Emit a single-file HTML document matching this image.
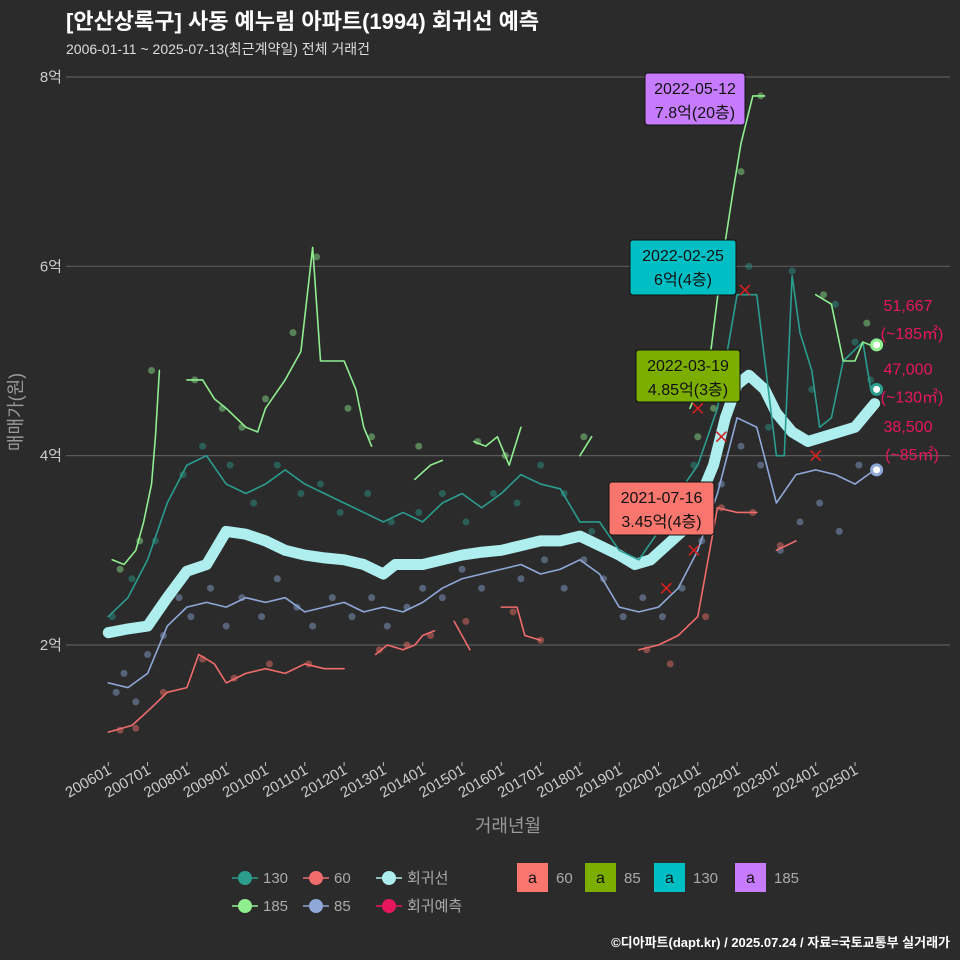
<!DOCTYPE html>
<html><head><meta charset="utf-8">
<style>
body{margin:0;background:#2b2b2b;}
svg{display:block;font-family:"Liberation Sans","Noto Sans CJK KR",sans-serif;}
</style></head>
<body>
<svg id="chart" width="960" height="960" viewBox="0 0 960 960">
<rect width="960" height="960" fill="#2b2b2b"/>
<text x="66" y="29" fill="#fff" font-size="22" font-weight="bold">[안산상록구] 사동 예누림 아파트(1994) 회귀선 예측</text>
<text x="66" y="54" fill="#ddd" font-size="14">2006-01-11 ~ 2025-07-13(최근계약일) 전체 거래건</text>
<g id="grid"></g>
<g id="marks"></g>
<g id="xaxis"></g>
<text x="508" y="832" fill="#999" font-size="18" text-anchor="middle">거래년월</text>
<text transform="translate(22,412) rotate(-90)" fill="#999" font-size="18" text-anchor="middle">매매가(원)</text>
<g id="legend"></g>
<text x="950" y="947" fill="#fff" font-size="13" font-weight="bold" text-anchor="end">©디아파트(dapt.kr) / 2025.07.24 / 자료=국토교통부 실거래가</text>
</svg>
<script>
const yTicks=[2,4,6,8];
const xTickYears=[2006,2007,2008,2009,2010,2011,2012,2013,2014,2015,2016,2017,2018,2019,2020,2021,2022,2023,2024,2025];
const regT=[2006,2006.5,2007,2007.5,2008,2008.5,2009,2009.5,2010,2010.5,2011,2011.5,2012,2012.5,2013,2013.3,2014,2014.5,2015,2015.5,2016,2016.5,2017,2017.5,2018,2018.5,2019,2019.4,2019.8,2020.2,2020.6,2021,2021.4,2021.7,2022,2022.3,2022.7,2023,2023.4,2023.8,2024.2,2024.6,2025,2025.5];
const regV=[2.13,2.17,2.2,2.5,2.78,2.85,3.2,3.17,3.1,3.0,2.95,2.92,2.9,2.85,2.75,2.85,2.85,2.9,2.95,2.98,3.0,3.05,3.1,3.1,3.15,3.05,2.95,2.85,2.9,3.05,3.2,3.5,3.9,4.4,4.75,4.85,4.7,4.45,4.25,4.15,4.2,4.25,4.3,4.55];
const s130T=[2006,2006.5,2007,2007.5,2008,2008.5,2009,2009.5,2010,2010.5,2011,2011.5,2012,2012.5,2013,2013.5,2014,2014.5,2015,2015.5,2016,2016.5,2017,2017.5,2018,2018.5,2019,2019.5,2020,2020.5,2021,2021.5,2022,2022.5,2023,2023.2,2023.4,2023.6,2023.9,2024.1,2024.4,2024.7,2025.2,2025.4];
const s130V=[2.3,2.5,2.9,3.5,3.9,4.0,3.7,3.6,3.7,3.85,3.7,3.6,3.5,3.4,3.3,3.4,3.3,3.5,3.6,3.45,3.6,3.8,3.7,3.65,3.3,3.3,3.0,2.9,3.2,3.6,3.9,4.5,5.7,5.7,4.0,4.0,5.9,5.3,4.9,4.3,4.4,5.0,5.2,4.7];
const s185Seg=[
 {t:[2006.1,2006.4,2006.7,2006.9,2007.1,2007.2,2007.3],v:[2.9,2.85,3.0,3.3,3.7,4.2,4.9]},
 {t:[2008,2008.4,2008.7,2009,2009.5,2009.8,2010,2010.5,2010.9,2011.2,2011.4,2012,2012.3,2012.5,2012.7],v:[4.8,4.8,4.6,4.5,4.3,4.25,4.5,4.8,5.1,6.2,5.0,5.0,4.7,4.3,4.1]},
 {t:[2013.8,2014.2,2014.5],v:[3.75,3.9,3.95]},
 {t:[2015.3,2015.6,2015.9,2016.2,2016.5],v:[4.15,4.1,4.2,3.9,4.3]},
 {t:[2018,2018.3],v:[4.0,4.2]},
 {t:[2020.8,2021.3,2021.6,2021.9,2022.1,2022.4,2022.7],v:[4.5,5.0,6.0,6.8,7.3,7.8,7.8]},
 {t:[2024,2024.4,2024.7,2025.0,2025.2,2025.5],v:[5.7,5.6,5.0,5.0,5.2,5.15]}];
const s85T=[2006,2006.5,2007,2007.5,2008,2008.5,2009,2009.5,2010,2010.5,2011,2011.5,2012,2012.5,2013,2013.5,2014,2014.5,2015,2015.5,2016,2016.5,2017,2017.5,2018,2018.5,2019,2019.5,2020,2020.5,2021,2021.5,2022,2022.5,2023,2023.5,2024,2024.5,2025,2025.5];
const s85V=[1.6,1.55,1.7,2.2,2.4,2.45,2.4,2.5,2.45,2.5,2.35,2.4,2.45,2.35,2.4,2.35,2.45,2.6,2.7,2.75,2.8,2.85,2.75,2.8,2.9,2.75,2.4,2.35,2.4,2.6,3.0,3.6,4.4,4.3,3.5,3.8,3.85,3.8,3.7,3.85];
const s60Seg=[
 {t:[2006,2006.6,2007,2007.5,2008,2008.3,2008.7,2009,2009.5,2010,2010.5,2011,2011.5,2012],v:[1.08,1.15,1.3,1.5,1.55,1.9,1.8,1.6,1.7,1.75,1.7,1.8,1.75,1.75]},
 {t:[2012.8,2013.1,2013.5,2013.8,2014.0,2014.3],v:[1.9,2.0,1.95,2.0,2.1,2.15]},
 {t:[2014.8,2015.0,2015.2],v:[2.25,2.1,1.95]},
 {t:[2016,2016.4,2016.6,2017.0],v:[2.4,2.4,2.1,2.05]},
 {t:[2019.5,2020,2020.5,2021,2021.5,2022,2022.5],v:[1.95,2.0,2.1,2.3,3.45,3.4,3.4]},
 {t:[2023,2023.5],v:[3.0,3.1]}];
const dot130T=[2006.1,2006.6,2007.2,2007.9,2008.4,2009.1,2009.7,2010.3,2010.9,2011.4,2011.9,2012.6,2013.2,2013.9,2014.5,2015.1,2015.8,2016.4,2017.0,2017.6,2018.3,2018.9,2019.6,2020.3,2020.9,2021.6,2022.3,2022.8,2023.4,2023.9,2024.5,2025.0,2025.4];
const dot130V=[2.3,2.7,3.1,3.8,4.1,3.9,3.5,3.9,3.6,3.7,3.4,3.6,3.3,3.4,3.6,3.3,3.6,3.5,3.9,3.6,3.2,3.4,2.9,3.3,3.9,4.7,6.0,4.3,5.95,4.7,5.6,5.2,4.8];
const dot185T=[2006.3,2006.8,2007.1,2008.2,2008.9,2009.4,2010.0,2010.7,2011.3,2012.1,2012.7,2013.9,2015.4,2016.1,2018.1,2021.0,2021.4,2022.1,2022.6,2024.2,2025.3];
const dot185V=[2.8,3.1,4.9,4.8,4.5,4.3,4.6,5.3,6.1,4.5,4.2,4.1,4.15,4.0,4.2,4.2,4.5,7.0,7.8,5.7,5.4];
const dot85T=[2006.2,2006.4,2006.7,2007.0,2007.4,2007.8,2008.1,2008.6,2009.0,2009.4,2009.9,2010.3,2010.8,2011.2,2011.7,2012.2,2012.7,2013.1,2013.6,2014.0,2014.5,2015.0,2015.5,2016.0,2016.5,2017.1,2017.6,2018.1,2018.6,2019.1,2019.6,2020.1,2020.6,2021.1,2021.6,2022.1,2022.6,2023.1,2023.6,2024.1,2024.6,2025.1];
const dot85V=[1.5,1.7,1.4,1.9,2.1,2.5,2.3,2.6,2.2,2.5,2.3,2.7,2.4,2.2,2.5,2.3,2.5,2.2,2.4,2.6,2.5,2.8,2.6,3.0,2.7,2.9,2.6,2.9,2.7,2.3,2.5,2.3,2.6,3.1,3.7,4.1,3.9,3.0,3.3,3.5,3.2,3.9];
const dot60T=[2006.3,2006.7,2007.4,2008.4,2009.2,2010.1,2011.1,2012.9,2013.6,2014.2,2015.1,2016.3,2017.0,2019.7,2020.3,2021.2,2021.6,2022.4,2023.1];
const dot60V=[1.1,1.12,1.5,1.85,1.65,1.8,1.8,1.95,2.0,2.1,2.25,2.35,2.05,1.95,1.8,2.3,3.45,3.4,3.05];
const predT=[2020.2,2020.9,2021.0,2021.6,2022.2,2024.0];
const predV=[2.6,3.0,4.5,4.2,5.75,4.0];
const endT=[2025.55,2025.55,2025.55];
const endV=[5.17,4.7,3.85];
const endColors=['#90ee90','#2a9d8f','#8fa8d8'];
const labels1=['51,667','47,000','38,500'];
const labels2=['(~185㎡)','(~130㎡)','(~85㎡)'];
const callD=['2022-05-12','2022-02-25','2022-03-19','2021-07-16'];
const callP=['7.8억(20층)','6억(4층)','4.85억(3층)','3.45억(4층)'];
const callV=[7.8,6.0,4.85,3.45];
const callC=['#c77cff','#00bfc4','#7cae00','#f8766d'];

const NS='http://www.w3.org/2000/svg';
const X=t=>108.3+(t-2006)*39.3;
const Y=v=>645-(v-2)*94.67;
function mk(tag,attrs,parent,txt){const e=document.createElementNS(NS,tag);for(const k in attrs)e.setAttribute(k,attrs[k]);if(txt!==undefined)e.textContent=txt;parent.appendChild(e);return e;}
const grid=document.getElementById('grid'),marks=document.getElementById('marks'),xa=document.getElementById('xaxis'),lg=document.getElementById('legend');
yTicks.forEach(v=>{
 const l=mk('line',{x1:66,x2:950,y1:Y(v),y2:Y(v),stroke:'#5a5a5a','stroke-width':1.2},grid);
 
 
 const t=mk('text',{x:62,y:Y(v)+5,fill:'#ccc','font-size':15,'text-anchor':'end'},grid,v+'억');
 
 
});
xTickYears.forEach(yr=>{
 const x=X(yr);
 const tk=mk('line',{x1:x,x2:x,y1:762,y2:766,stroke:'#bbb'},xa);
 
 
 const t=mk('text',{transform:`translate(${x+4},${773}) rotate(-30)`,fill:'#ccc','font-size':15,'text-anchor':'end'},xa,yr+'01');
 
 
});
function dots(T,V,col,name){T.forEach((t,i)=>{const c=mk('circle',{cx:X(t),cy:Y(V[i]),r:3.5,fill:col,'fill-opacity':0.45},marks);});}
function line(T,V,col,w,name){let d='';T.forEach((t,i)=>{d+=(i==0?'M':'L')+X(t)+','+Y(V[i]);});const p=mk('path',{d:d,fill:'none',stroke:col,'stroke-width':w,'stroke-linejoin':'round','stroke-linecap':'round'},marks);}
dots(dot85T,dot85V,'#8fa8d8','point-85');
dots(dot130T,dot130V,'#2a9d8f','point-130');
dots(dot185T,dot185V,'#90ee90','point-185');
dots(dot60T,dot60V,'#f8766d','point-60');
line(regT,regV,'#aeeeee',11,'regression-line');
s60Seg.forEach(s=>line(s.t,s.v,'#f06c6c',1.6,'line-60'));
line(s85T,s85V,'#8fa8d8',1.6,'line-85');
line(s130T,s130V,'#2a9d8f',1.6,'line-130');
s185Seg.forEach(s=>line(s.t,s.v,'#90ee90',1.6,'line-185'));
predT.forEach((t,i)=>{const x=X(t),y=Y(predV[i]);const p=mk('path',{d:`M${x-5},${y-5}L${x+5},${y+5}M${x-5},${y+5}L${x+5},${y-5}`,stroke:'#d62020','stroke-width':1.6},marks);});
endT.forEach((t,i)=>{const c=mk('circle',{cx:X(t),cy:Y(endV[i]),r:5,fill:'#fff',stroke:endColors[i],'stroke-width':3},marks);
 const a=mk('text',{x:908,y:Y(endV[i])-34+[0,19,-4][i],fill:'#e8175d','font-size':16,'text-anchor':'middle'},marks,labels1[i]);
 const b=mk('text',{x:912,y:Y(endV[i])-6+[0,19,-4][i],fill:'#e8175d','font-size':16,'text-anchor':'middle'},marks,labels2[i]);});
const boxes=[[645,73,100,52],[630,240,106,55],[636,350,104,52],[609,482,105,53]];
boxes.forEach((b,i)=>{const g=mk('g',{},marks);
 mk('rect',{x:b[0],y:b[1],width:b[2],height:b[3],rx:3,fill:callC[i],stroke:'#111','stroke-width':1},g);
 mk('text',{x:b[0]+b[2]/2,y:b[1]+21,'font-size':16,'text-anchor':'middle',fill:'#111'},g,callD[i]);
 mk('text',{x:b[0]+b[2]/2,y:b[1]+45,'font-size':16,'text-anchor':'middle',fill:'#111'},g,callP[i]);});
const legA=[['130','#2a9d8f',245,878],['60','#f06c6c',316,878],['회귀선','#aeeeee',389,878],['185','#90ee90',245,906],['85','#8fa8d8',316,906],['회귀예측','#e8175d',389,906]];
legA.forEach(l=>{const g=mk('g',{},lg);
 mk('line',{x1:l[2]-13,x2:l[2]+13,y1:l[3],y2:l[3],stroke:l[1],'stroke-width':1.5},g);
 mk('circle',{cx:l[2],cy:l[3],r:7,fill:l[1]},g);
 mk('text',{x:l[2]+18,y:l[3]+5,fill:'#aaa','font-size':15},g,l[0]);});
const legB=[['60','#f8766d',517],['85','#7cae00',585],['130','#00bfc4',654],['185','#c77cff',735]];
legB.forEach(l=>{const g=mk('g',{},lg);
 mk('rect',{x:l[2],y:863,width:31,height:29,fill:l[1]},g);
 mk('text',{x:l[2]+15.5,y:883,'font-size':16,'text-anchor':'middle',fill:'#111'},g,'a');
 mk('text',{x:l[2]+39,y:883,fill:'#aaa','font-size':15},g,l[0]);});
</script>
</body></html>
